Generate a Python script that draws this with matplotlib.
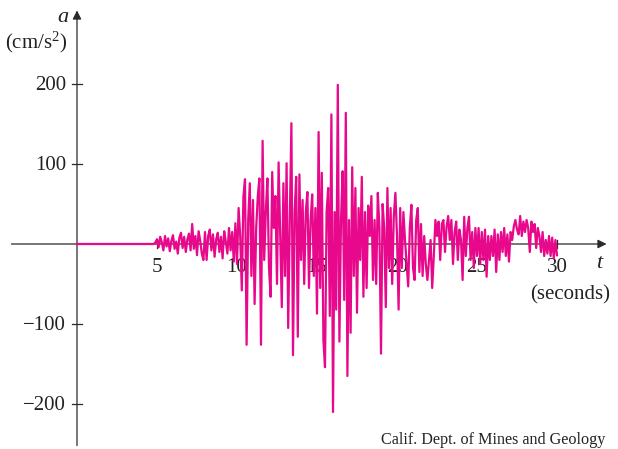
import matplotlib
matplotlib.use('Agg')
import matplotlib.pyplot as plt
import numpy as np

plt.rcParams['font.family'] = ['Liberation Serif', 'DejaVu Serif']
plt.rcParams['mathtext.fontset'] = 'custom'
plt.rcParams['mathtext.rm'] = 'Liberation Serif'
plt.rcParams['mathtext.it'] = 'Liberation Serif:italic'

# ---- data: ground acceleration (cm/s^2) sampled every 0.1 s ----
t_quiet_end = 4.8          # signal flat before this time
dt = 0.1
accel = [
    0, 2,
    6, -4, 9, 2, -8, 10, -3, 7, -9, 4,               # 5.0
    11, -6, 3, -12, 8, 14, -5, 9, -10, 6,            # 6.0
    13, -8, 25, -6, 10, -14, 16, 4, -12, -20,        # 7.0
    15, -20, 10, 18, -8, 12, -16, 6, 14, -10,        # 8.0
    9, -18, 16, 3, -12, 20, -8, 15, -22, 26,         # 9.0
    -25, 45, 10, -58, 59, 81, -126, 30, 76, -40,     # 10.0
    55, -75, 20, 60, 82, -126, 129, -20, 40, 82,     # 11.0
    -30, -66, 90, 20, 60, -50, 102, 10, -79, 76,     # 12.0
    -40, 101, -105, 30, 151, -139, 40, 84, -116, 87, # 13.0
    -20, 55, -50, 40, 65, -55, 30, 62, -40, 45,      # 14.0
    -87, 140, -55, 89, -120, -154, 40, 70, -90, 162, # 15.0
    -210, 40, -82, 199, -122, 30, 91, -70, 164, -165,# 16.0
    30, -111, 96, -40, 70, -86, 45, -20, 84, -66,    # 17.0
    40, -55, 48, 10, 60, -45, 30, -50, 64, 20,       # 18.0
    -137, 50, 20, -79, 70, -30, 45, -50, 35, 64,     # 19.0
    10, -82, 45, -30, 40, 5, -25, -53, 20, 49,       # 20.0
    -30, -45, 30, 45, -35, 25, -40, 10, -25, -45,    # 21.0
    -20, 5, -55, -15, 30, 10, 28, -20, 25, 30,       # 22.0
    -10, 22, 35, 5, 30, -25, 15, 28, -20, 18,        # 23.0
    5, -45, 34, -15, 20, 34, -20, 15, -30, 20,       # 24.0
    -15, 20, -25, 15, -20, 18, -41, 10, -20, 10,     # 25.0
    -15, 18, -35, 12, -20, 15, -10, 20, -15, 12,     # 26.0
    -22, 15, 5, 22, 30, 18, 12, 35, 10, 28,          # 27.0
    15, 30, 20, -10, 28, 15, 25, -5, 20, 10,         # 28.0
    -10, 15, -15, 5, -12, 10, -15, 8, -18, 5,        # 29.0
    -14,                                             # 30.0
]
x_ticks = [5, 10, 15, 20, 25, 30]
y_ticks = [-200, -100, 100, 200]
y_tick_labels = ['\u2212200', '\u2212100', '100', '200']

# ---- figure ----
fig = plt.figure(figsize=(6.18, 4.49), dpi=100)
ax = fig.add_axes([0, 0, 1, 1])
ax.set_xlim(-77 / 16, 541 / 16)
ax.set_ylim(-205 / 0.8, 244 / 0.8)
ax.axis('off')

axis_col = '#2a2a2a'
txt_col = '#222222'
# horizontal axis with arrow
ax.annotate('', xy=(33.1, 0), xytext=(-4.1, 0),
            arrowprops=dict(arrowstyle='-|>', color=axis_col, lw=0.9,
                            mutation_scale=13, shrinkA=0, shrinkB=0))
# vertical axis with arrow
ax.annotate('', xy=(0, 292), xytext=(0, -252),
            arrowprops=dict(arrowstyle='-|>', color=axis_col, lw=0.9,
                            mutation_scale=13, shrinkA=0, shrinkB=0))

for xt in x_ticks:
    ax.plot([xt, xt], [-5, 5], color=axis_col, lw=0.9)
    ax.text(xt, -30, str(xt), ha='center', va='center', fontsize=15, color=txt_col)
for yt, lab in zip(y_ticks, y_tick_labels):
    ax.plot([-0.31, 0.31], [yt, yt], color=axis_col, lw=0.9)
    ax.text(-0.7, yt - 2, lab, ha='right', va='center', fontsize=15, color=txt_col)

# signal
n = len(accel)
t_sig = t_quiet_end + dt * np.arange(n)
t_all = np.concatenate([[0.0], t_sig])
a_all = np.concatenate([[0.0], np.array(accel, dtype=float)])
ax.plot(t_all, a_all, color='#E8088C', lw=1.6, zorder=5)

# labels
ax.text(-0.55, 283, 'a', style='italic', fontsize=16, ha='right', va='center', color=txt_col)
ax.text(-0.6, 252, '(cm/s$^2$)', fontsize=15, ha='right', va='center', color=txt_col)
ax.text(32.6, -25, 't', style='italic', fontsize=16, ha='center', va='center', color=txt_col)
ax.text(33.3, -63, '(seconds)', fontsize=15, ha='right', va='center', color=txt_col)
ax.text(33.0, -245, 'Calif. Dept. of Mines and Geology', fontsize=11.6,
        ha='right', va='center', color=txt_col)

fig.savefig('out.png', dpi=100)
